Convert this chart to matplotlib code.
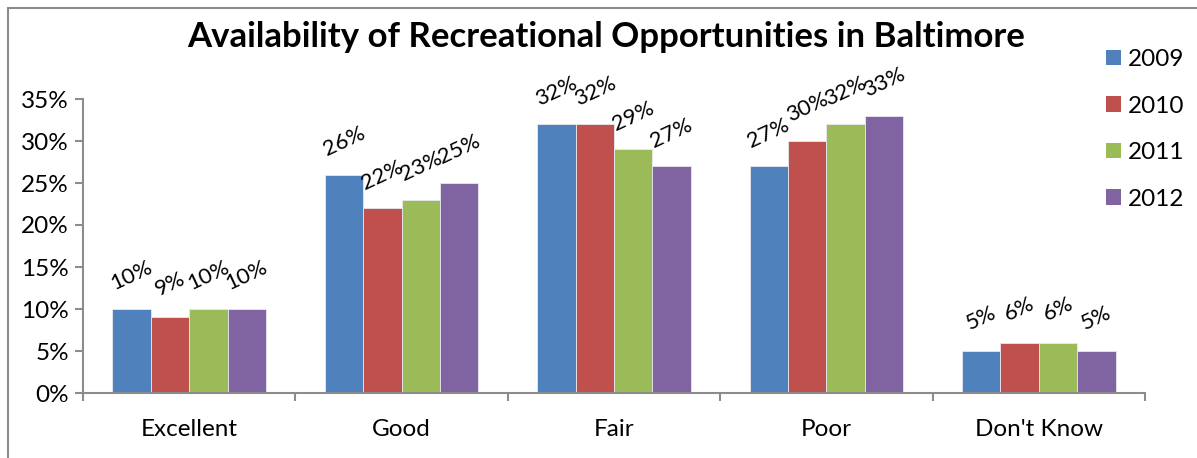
import matplotlib
matplotlib.use("Agg")
import matplotlib.pyplot as plt
from matplotlib.patches import Rectangle, Patch
import numpy as np

categories = ["Excellent", "Good", "Fair", "Poor", "Don't Know"]
years = ["2009", "2010", "2011", "2012"]
v2009 = [10, 26, 32, 27, 5]
v2010 = [9, 22, 32, 30, 6]
v2011 = [10, 23, 29, 32, 6]
v2012 = [10, 25, 27, 33, 5]
series = [v2009, v2010, v2011, v2012]
colors = ["#4F81BD", "#C0504D", "#9BBB59", "#8064A2"]
yticks = [0, 5, 10, 15, 20, 25, 30, 35]

plt.rcParams["font.family"] = ["Lato", "DejaVu Sans"]

W, H = 1197, 458
fig = plt.figure(figsize=(W / 100, H / 100), dpi=100)
ax = fig.add_axes([83 / W, 1 - 393 / H, (1145 - 83) / W, (393 - 99) / H])

# outer chart frame (left and top edges visible)
fig.add_artist(Rectangle((8 / W, -0.1), 1.2, 1 - 8 / H + 0.1, transform=fig.transFigure,
                         fill=False, edgecolor="#8c8c8c", linewidth=1.5))

x = np.arange(len(categories)) + 0.5
bw = 0.181
for i, (vals, c) in enumerate(zip(series, colors)):
    xs = x + (i - 1.5) * bw
    ax.bar(xs, vals, width=bw, color=c, edgecolor="#e8e8f0", linewidth=0.6, zorder=2)
    for xi, v in zip(xs, vals):
        ax.annotate(f"{v}%", (xi, v), xytext=(0, 24), textcoords="offset points",
                    ha="center", va="center", rotation=25, fontsize=16, color="black")

ax.set_xlim(0, len(categories))
ax.set_ylim(0, 35)
ax.set_yticks(yticks)
ax.set_yticklabels([f"{t}%" for t in yticks], fontsize=17.5)
ax.set_xticks(np.arange(len(categories) + 1))
ax.set_xticklabels([])
ax.set_xticks(x, minor=True)
ax.set_xticklabels(categories, minor=True, fontsize=17.5)
ax.tick_params(axis="x", which="minor", length=0, pad=19)
ax.tick_params(axis="x", which="major", length=6, width=1.5, color="#8c8c8c", direction="out")
ax.tick_params(axis="y", length=6, width=1.5, color="#8c8c8c", direction="out", pad=4)
for s in ["top", "right"]:
    ax.spines[s].set_visible(False)
for s in ["left", "bottom"]:
    ax.spines[s].set_color("#8c8c8c")
    ax.spines[s].set_linewidth(1.5)

fig.text(606 / W, 1 - 37 / H, "Availability of Recreational Opportunities in Baltimore",
         ha="center", va="center", fontsize=25, fontweight="bold")

handles = [Patch(facecolor=c, edgecolor="none") for c in colors]
fig.legend(handles, years, loc="upper left", bbox_to_anchor=(1106 / W, 1 - 49 / H),
           frameon=False, fontsize=17.5, borderpad=0, handlelength=0.62, handleheight=0.62,
           handletextpad=0.3, labelspacing=1.05, borderaxespad=0)

fig.savefig("out.png", dpi=100)
